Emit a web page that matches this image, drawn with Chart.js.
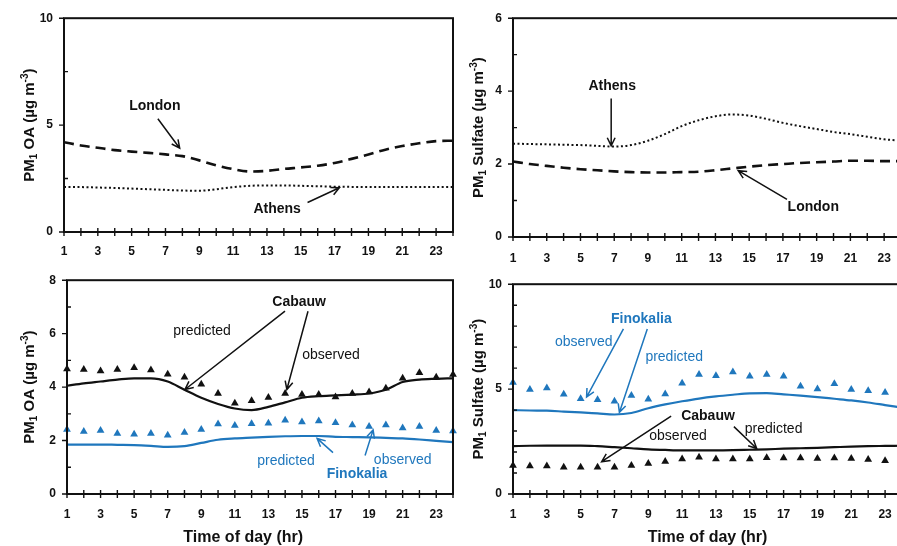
<!DOCTYPE html>
<html>
<head>
<meta charset="utf-8">
<script src="https://cdn.jsdelivr.net/npm/chart.js@4.4.1/dist/chart.umd.min.js"></script>
<style>
  html, body { margin: 0; padding: 0; background: #fff; overflow: hidden; }
  #wrap { position: relative; width: 897px; height: 546px; overflow: hidden; }
  canvas { position: absolute; }
</style>
</head>
<body>
<div id="wrap">
  <canvas id="tl" width="470" height="262" style="left:0;top:0"></canvas>
  <canvas id="tr" width="460" height="266" style="left:455px;top:0"></canvas>
  <canvas id="bl" width="470" height="284" style="left:0;top:262px"></canvas>
  <canvas id="br" width="460" height="280" style="left:455px;top:266px"></canvas>
</div>
<script>
// hour of day
const hours = [1, 2, 3, 4, 5, 6, 7, 8, 9, 10, 11, 12, 13, 14, 15, 16, 17, 18, 19, 20, 21, 22, 23, 24];

// top left: PM1 OA
const londonOA = [4.2, 4.05, 3.94, 3.83, 3.76, 3.7, 3.63, 3.55, 3.35, 3.12, 2.94, 2.83, 2.86, 2.95, 3.02, 3.1, 3.23, 3.42, 3.63, 3.85, 4.02, 4.15, 4.25, 4.27];
const athensOA = [2.1, 2.1, 2.08, 2.06, 2.03, 2.0, 1.97, 1.94, 1.93, 2.0, 2.1, 2.16, 2.18, 2.18, 2.16, 2.14, 2.12, 2.11, 2.1, 2.1, 2.1, 2.1, 2.1, 2.1];

// top right: PM1 sulfate
const athensSO4 = [2.56, 2.55, 2.54, 2.53, 2.52, 2.5, 2.48, 2.52, 2.64, 2.82, 3.04, 3.2, 3.31, 3.36, 3.33, 3.24, 3.13, 3.04, 2.96, 2.88, 2.82, 2.75, 2.68, 2.64];
const londonSO4 = [2.07, 2.0, 1.95, 1.9, 1.86, 1.83, 1.8, 1.78, 1.77, 1.77, 1.78, 1.79, 1.83, 1.88, 1.93, 1.97, 2.0, 2.03, 2.05, 2.07, 2.09, 2.09, 2.08, 2.08];

// bottom left: PM1 OA, predicted vs observed
const cabauwOAPred = [4.05, 4.14, 4.21, 4.28, 4.33, 4.33, 4.21, 3.9, 3.6, 3.37, 3.2, 3.14, 3.26, 3.43, 3.6, 3.66, 3.69, 3.72, 3.76, 3.9, 4.19, 4.28, 4.31, 4.33];
const cabauwOAObs = [4.68, 4.66, 4.6, 4.66, 4.72, 4.64, 4.48, 4.37, 4.11, 3.76, 3.4, 3.49, 3.61, 3.76, 3.72, 3.72, 3.63, 3.76, 3.82, 3.96, 4.33, 4.54, 4.37, 4.47];
const finoOAPred = [1.85, 1.85, 1.85, 1.84, 1.83, 1.8, 1.76, 1.79, 1.91, 2.03, 2.08, 2.11, 2.14, 2.16, 2.17, 2.17, 2.14, 2.13, 2.12, 2.1, 2.08, 2.04, 1.99, 1.94];
const finoOAObs = [2.41, 2.34, 2.38, 2.26, 2.24, 2.26, 2.2, 2.3, 2.41, 2.62, 2.56, 2.63, 2.65, 2.76, 2.69, 2.73, 2.67, 2.58, 2.53, 2.58, 2.47, 2.53, 2.38, 2.36];

// bottom right: PM1 sulfate, predicted vs observed
const finoSO4Obs = [5.32, 4.98, 5.05, 4.75, 4.54, 4.49, 4.42, 4.69, 4.52, 4.77, 5.28, 5.7, 5.64, 5.81, 5.61, 5.7, 5.61, 5.14, 5.01, 5.25, 4.98, 4.92, 4.84, 4.8];
const finoSO4Pred = [4.0, 3.98, 3.97, 3.93, 3.89, 3.84, 3.79, 3.86, 4.09, 4.27, 4.42, 4.55, 4.65, 4.73, 4.8, 4.81, 4.75, 4.69, 4.62, 4.54, 4.46, 4.36, 4.24, 4.12];
const cabauwSO4Pred = [2.28, 2.3, 2.31, 2.31, 2.31, 2.28, 2.23, 2.18, 2.13, 2.1, 2.08, 2.08, 2.08, 2.09, 2.11, 2.13, 2.16, 2.18, 2.2, 2.23, 2.26, 2.28, 2.29, 2.3];
const cabauwSO4Obs = [1.36, 1.33, 1.34, 1.28, 1.27, 1.27, 1.28, 1.36, 1.45, 1.55, 1.67, 1.75, 1.67, 1.67, 1.67, 1.73, 1.72, 1.72, 1.69, 1.72, 1.69, 1.64, 1.58, 1.6];

// labelled y ticks for each panel
const ticksTL = [0, 5, 10];
const ticksTR = [0, 2, 4, 6];
const ticksBL = [0, 2, 4, 6, 8];
const ticksBR = [0, 5, 10];

const BLUE = '#1f77bd';
const FONT = '"Liberation Sans", Arial, sans-serif';

function pts(vals) {
  return hours.map((h, i) => ({ x: h, y: vals[i] }));
}
function curve(vals, color, dash, width) {
  return { data: pts(vals), borderColor: color, borderWidth: width || 2.2, borderDash: dash || [],
    pointRadius: 0, tension: 0.4, cubicInterpolationMode: 'monotone', fill: false };
}
function marks(vals, color) {
  return { data: pts(vals), showLine: false, pointStyle: 'triangle', pointRadius: 4.5,
    pointBackgroundColor: color, pointBorderColor: color, pointBorderWidth: 0, clip: false };
}

const frame = {
  id: 'frame',
  afterDraw(chart, args, o) {
    const { ctx, chartArea: a, scales: { x, y } } = chart;
    ctx.save();
    ctx.strokeStyle = '#111';
    ctx.lineWidth = 2;
    ctx.strokeRect(a.left, a.top, a.right - a.left, a.bottom - a.top);
    ctx.lineWidth = 1.4;
    ctx.beginPath();
    x.ticks.forEach(t => {
      const px = x.getPixelForValue(t.value);
      ctx.moveTo(px, a.bottom - 4); ctx.lineTo(px, a.bottom + 4);
    });
    y.ticks.forEach(t => {
      const py = y.getPixelForValue(t.value);
      if (o.major.includes(t.value)) { ctx.moveTo(a.left - 5, py); ctx.lineTo(a.left, py); }
      else { ctx.moveTo(a.left, py); ctx.lineTo(a.left + 4, py); }
    });
    ctx.stroke();

    // arrows
    (o.arrows || []).forEach(ar => {
      const x1 = x.getPixelForValue(ar[0]), y1 = y.getPixelForValue(ar[1]);
      const x2 = x.getPixelForValue(ar[2]), y2 = y.getPixelForValue(ar[3]);
      ctx.strokeStyle = ar[4] || '#111';
      ctx.lineWidth = 1.5;
      ctx.beginPath(); ctx.moveTo(x1, y1); ctx.lineTo(x2, y2);
      const ang = Math.atan2(y2 - y1, x2 - x1), len = 9;
      ctx.moveTo(x2 - len * Math.cos(ang - 0.45), y2 - len * Math.sin(ang - 0.45));
      ctx.lineTo(x2, y2);
      ctx.lineTo(x2 - len * Math.cos(ang + 0.45), y2 - len * Math.sin(ang + 0.45));
      ctx.stroke();
    });

    // labels
    ctx.textAlign = 'center';
    ctx.textBaseline = 'middle';
    (o.notes || []).forEach(n => {
      ctx.fillStyle = n.color || '#111';
      ctx.font = (n.bold ? 'bold ' : '') + '14px ' + FONT;
      ctx.fillText(n.text, x.getPixelForValue(n.x), y.getPixelForValue(n.y));
    });

    // y title with sub/superscripts
    const parts = o.yTitle;
    const big = 'bold 15px ' + FONT, small = 'bold 10px ' + FONT;
    let w = 0;
    parts.forEach(p => { ctx.font = p[1] ? small : big; w += ctx.measureText(p[0]).width; });
    ctx.translate(o.yTitleX, (a.top + a.bottom) / 2);
    ctx.rotate(-Math.PI / 2);
    ctx.textAlign = 'left';
    ctx.textBaseline = 'alphabetic';
    ctx.fillStyle = '#111';
    let cx = -w / 2;
    parts.forEach(p => {
      ctx.font = p[1] ? small : big;
      const dy = p[1] === 'sub' ? 3 : p[1] === 'sup' ? -6 : 0;
      ctx.fillText(p[0], cx, 5 + dy);
      cx += ctx.measureText(p[0]).width;
    });
    ctx.setTransform(1, 0, 0, 1, 0, 0);

    if (o.xTitle) {
      ctx.font = 'bold 16px ' + FONT;
      ctx.textAlign = 'center';
      ctx.textBaseline = 'middle';
      ctx.fillText(o.xTitle, x.getPixelForValue(o.xTitleAt), a.bottom + 44);
    }
    ctx.restore();
  }
};

function panel(id, p) {
  const tickFont = { family: FONT, size: 12, weight: 'bold' };
  return new Chart(document.getElementById(id), {
    type: 'line',
    data: { datasets: p.datasets },
    options: {
      responsive: false,
      animation: false,
      layout: { padding: { left: 0, top: p.padTop, right: p.padRight, bottom: 0 } },
      plugins: {
        legend: { display: false },
        tooltip: { enabled: false },
        frame: p.frame
      },
      scales: {
        x: {
          type: 'linear', min: 1, max: 24,
          afterFit: s => { s.height = p.xHeight; },
          ticks: { stepSize: 1, autoSkip: false, maxRotation: 0, padding: p.xPad, font: tickFont, color: '#111',
            callback: v => (v % 2 === 1 ? v : '') },
          grid: { display: false, drawTicks: false },
          border: { display: false }
        },
        y: {
          min: 0, max: p.yMax,
          afterFit: s => { s.width = p.yWidth; },
          ticks: { stepSize: p.yStep, padding: 11, font: tickFont, color: '#111',
            callback: v => (p.frame.major.includes(v) ? v : '') },
          grid: { display: false, drawTicks: false },
          border: { display: false }
        }
      }
    },
    plugins: [frame]
  });
}

const titleOA = [['PM'], ['1', 'sub'], [' OA (µg m'], ['-3', 'sup'], [')']];
const titleSO4 = [['PM'], ['1', 'sub'], [' Sulfate (µg m'], ['-3', 'sup'], [')']];

panel('tl', {
  padTop: 15, padRight: 17, yWidth: 64, xHeight: 30, xPad: 12, yMax: 10, yStep: 2.5,
  datasets: [curve(londonOA, '#111', [10, 6], 2.6), curve(athensOA, '#111', [2, 2.5], 2)],
  frame: {
    major: ticksTL, yTitle: titleOA, yTitleX: 29,
    notes: [{ text: 'London', x: 6.37, y: 5.9, bold: true }, { text: 'Athens', x: 13.6, y: 1.06, bold: true }],
    arrows: [[6.55, 5.3, 7.84, 3.92], [15.4, 1.38, 17.28, 2.07]]
  }
});

panel('tr', {
  padTop: 16, padRight: 11, yWidth: 58, xHeight: 29, xPad: 14, yMax: 6, yStep: 1,
  datasets: [curve(athensSO4, '#111', [2, 2.5], 2), curve(londonSO4, '#111', [10, 6], 2.6)],
  frame: {
    major: ticksTR, yTitle: titleSO4, yTitleX: 23,
    notes: [{ text: 'Athens', x: 6.88, y: 4.13, bold: true }, { text: 'London', x: 18.8, y: 0.81, bold: true }],
    arrows: [[6.82, 3.8, 6.82, 2.5], [17.24, 1.03, 14.35, 1.82]]
  }
});

panel('bl', {
  padTop: 5, padRight: 17, yWidth: 67, xHeight: 52, xPad: 13, yMax: 8, yStep: 1,
  datasets: [curve(cabauwOAPred, '#111'), marks(cabauwOAObs, '#111'), curve(finoOAPred, BLUE), marks(finoOAObs, BLUE)],
  frame: {
    major: ticksBL, yTitle: titleOA, yTitleX: 29, xTitle: 'Time of day (hr)', xTitleAt: 11.5,
    notes: [
      { text: 'Cabauw', x: 14.83, y: 7.19, bold: true },
      { text: 'predicted', x: 9.05, y: 6.1 },
      { text: 'observed', x: 16.73, y: 5.18 },
      { text: 'predicted', x: 14.05, y: 1.23, color: BLUE },
      { text: 'observed', x: 21.0, y: 1.27, color: BLUE },
      { text: 'Finokalia', x: 18.28, y: 0.74, bold: true, color: BLUE }
    ],
    arrows: [
      [13.99, 6.84, 8.03, 3.91], [15.36, 6.84, 14.1, 3.91],
      [16.85, 1.55, 15.9, 2.08, BLUE], [18.76, 1.44, 19.24, 2.4, BLUE]
    ]
  }
});

panel('br', {
  padTop: 7, padRight: 11, yWidth: 58, xHeight: 52, xPad: 13, yMax: 10, yStep: 1,
  datasets: [curve(finoSO4Pred, BLUE), marks(finoSO4Obs, BLUE), curve(cabauwSO4Pred, '#111'), marks(cabauwSO4Obs, '#111')],
  frame: {
    major: ticksBR, yTitle: titleSO4, yTitleX: 23, xTitle: 'Time of day (hr)', xTitleAt: 12.5,
    notes: [
      { text: 'Finokalia', x: 8.59, y: 8.33, bold: true, color: BLUE },
      { text: 'observed', x: 5.18, y: 7.24, color: BLUE },
      { text: 'predicted', x: 10.53, y: 6.52, color: BLUE },
      { text: 'Cabauw', x: 12.53, y: 3.71, bold: true },
      { text: 'observed', x: 10.76, y: 2.76 },
      { text: 'predicted', x: 16.41, y: 3.08 }
    ],
    arrows: [
      [7.53, 7.87, 5.35, 4.62, BLUE], [8.94, 7.87, 7.29, 3.89, BLUE],
      [10.35, 3.71, 6.24, 1.54], [14.06, 3.21, 15.41, 2.17]
    ]
  }
});
</script>
</body>
</html>
